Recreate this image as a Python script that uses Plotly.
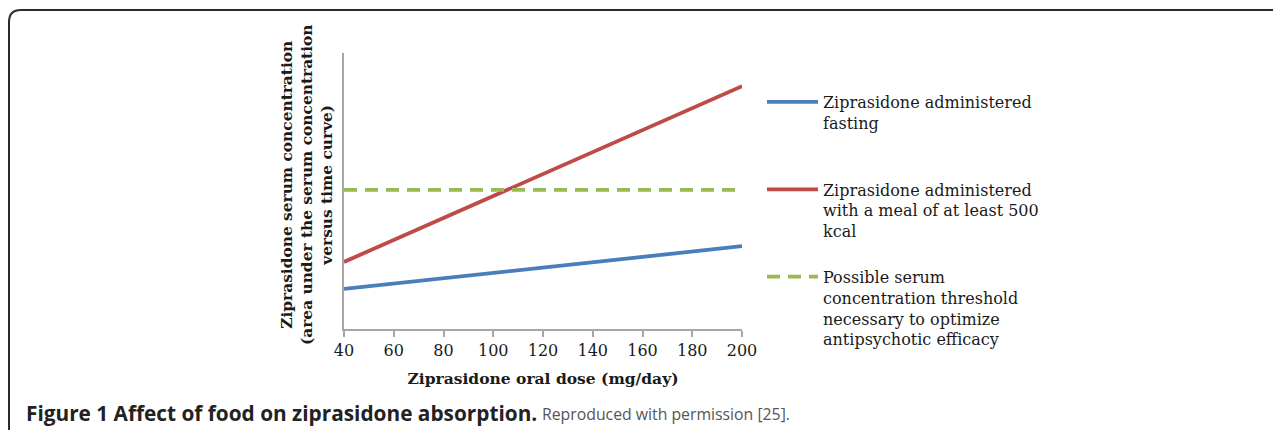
import plotly.graph_objects as go

# Data (y is arbitrary relative units, axis has no tick labels)
doses = [40, 200]
fasting = [14.5, 30.0]
with_meal = [24.3, 88.0]
threshold_x = [40, 198]
threshold_y = [50.4, 50.4]
x_ticks = [40, 60, 80, 100, 120, 140, 160, 180, 200]

names = [
    "Ziprasidone administered<br>fasting<br> ",
    "Ziprasidone administered<br>with a meal of at least 500<br>kcal",
    "Possible serum<br>concentration threshold<br>necessary to optimize<br>antipsychotic efficacy",
]

# Page coordinates (browser adds an 8px body margin, so figure is shifted)
OFF = 8
W, H = 1281 - OFF, 430 - OFF
L, R, T, B = 344, 742, 53, 329  # plot area in page pixels


def px(x):
    return (x - L) / (R - L)


def py(y):
    return (B - y) / (B - T)


SERIF = "DejaVu Serif"
INK = "#1a1a1a"

fig = go.Figure()
fig.add_trace(go.Scatter(x=doses, y=fasting, mode="lines", name=names[0],
                         line=dict(color="#4a7ebb", width=3.8), legendgroup="a"))
fig.add_trace(go.Scatter(x=doses, y=with_meal, mode="lines", name=names[1],
                         line=dict(color="#be4b48", width=3.8), legendgroup="b"))
fig.add_trace(go.Scatter(x=threshold_x, y=threshold_y, mode="lines", name=names[2],
                         line=dict(color="#98b954", width=3.8, dash="13px,8px"), legendgroup="c"))

fig.update_layout(
    width=W, height=H,
    margin=dict(l=L - OFF, r=W - (R - OFF), t=T - OFF, b=H - (B - OFF)),
    paper_bgcolor="white", plot_bgcolor="white",
    showlegend=True,
    legend=dict(x=px(762), y=py(85), xanchor="left", yanchor="top",
                font=dict(family=SERIF, size=16, color=INK),
                valign="top", tracegroupgap=22, itemwidth=51, maxheight=400),
    xaxis=dict(range=[40, 200], tickvals=x_ticks, ticks="outside", ticklen=6,
               tickcolor="#a6a6a6", tickwidth=1.5, showline=True, linecolor="#a6a6a6",
               linewidth=1.5, showgrid=False, zeroline=False,
               tickfont=dict(family=SERIF, size=16, color=INK),
               title=dict(text="<b>Ziprasidone oral dose (mg/day)</b>", standoff=14,
                          font=dict(family=SERIF, size=15.5, color=INK))),
    yaxis=dict(range=[0, 100], showticklabels=False, ticks="", showline=True,
               linecolor="#a6a6a6", linewidth=1.5, showgrid=False, zeroline=False),
)

# Y-axis title (three lines, rotated)
fig.add_annotation(
    text="<b>Ziprasidone serum concentration<br>(area under the serum concentration<br>versus time curve)</b>",
    xref="paper", yref="paper", x=px(307), y=py(185), textangle=-90,
    showarrow=False, xanchor="center", yanchor="middle",
    font=dict(family=SERIF, size=15.4, color=INK),
)

# Caption
fig.add_annotation(
    text="<b>Figure 1 Affect of food on ziprasidone absorption.</b>",
    xref="paper", yref="paper", x=px(24), y=py(413), xanchor="left", yanchor="middle",
    showarrow=False, font=dict(family="Open Sans", size=20.8, color="#222"),
)
fig.add_annotation(
    text="Reproduced with permission [25].",
    xref="paper", yref="paper", x=px(540), y=py(414), xanchor="left", yanchor="middle",
    showarrow=False, font=dict(family="Open Sans", size=15.8, color="#555"),
)

# Figure frame (rounded top-left corner, open at right/bottom edges)
r = 12
fig.add_shape(
    type="path", xref="paper", yref="paper",
    path=f"M {px(9)},{py(440)} L {px(9)},{py(10 + r)} Q {px(9)},{py(10)} {px(9 + r)},{py(10)} L {px(1300)},{py(10)}",
    line=dict(color="#2b2b2b", width=2),
)

fig.write_html("out.html")
